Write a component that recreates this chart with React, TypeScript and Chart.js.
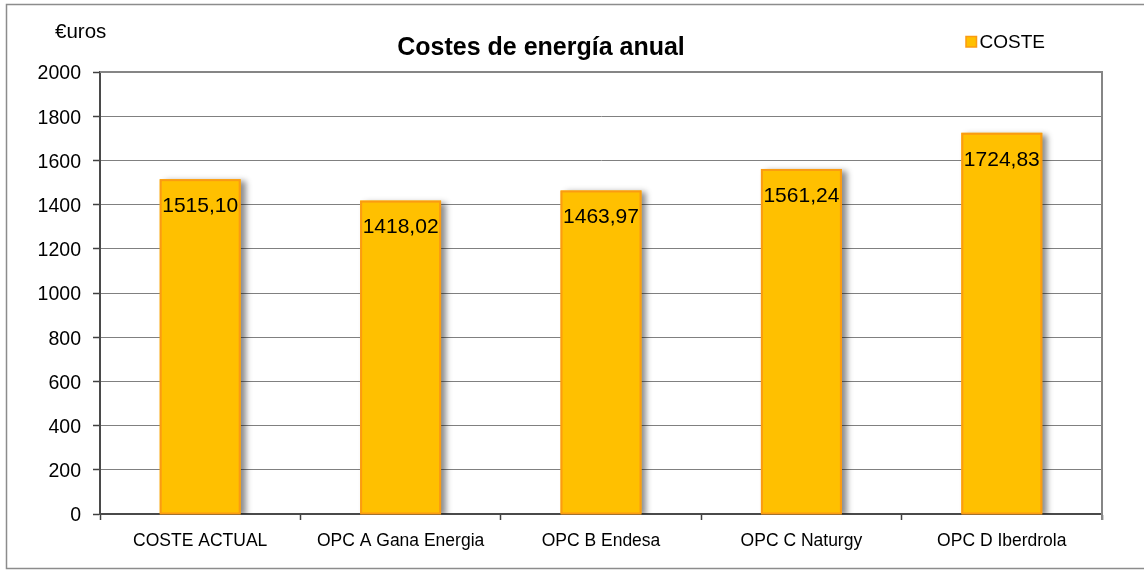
import React, { useEffect, useRef } from "react";
import { Chart, registerables } from "chart.js";

Chart.register(...registerables);

const categories = ["COSTE ACTUAL", "OPC A Gana Energia", "OPC B Endesa", "OPC C Naturgy", "OPC D Iberdrola"];
const costs = [1515.1, 1418.02, 1463.97, 1561.24, 1724.83];
const seriesName = "COSTE";
const chartTitle = "Costes de energía anual";
const yUnitLabel = "€uros";
const yMin = 0;
const yMax = 2000;
const yStep = 200;

const FONT = "'Liberation Sans', Arial, sans-serif";
const BAR_FILL = "#FFC000";
const BAR_BORDER = "#FB9B12";

const fmt = (v: number) => v.toFixed(2).replace(".", ",");

const decorPlugin = {
  id: "decor",
  beforeDraw(chart: any) {
    const ctx = chart.ctx;
    const { width, height } = chart;
    ctx.save();
    ctx.fillStyle = "#ffffff";
    ctx.fillRect(0, 0, width, height);
    ctx.strokeStyle = "#8c8c8c";
    ctx.lineWidth = 1.5;
    ctx.strokeRect(6.5, 4.5, width + 20, 564);
    ctx.restore();
  },
  beforeDatasetDraw(chart: any) {
    const ctx = chart.ctx;
    ctx.save();
    ctx.shadowColor = "rgba(0,0,0,0.45)";
    ctx.shadowOffsetX = 5;
    ctx.shadowOffsetY = 2;
    ctx.shadowBlur = 6;
  },
  afterDatasetDraw(chart: any) {
    chart.ctx.restore();
  },
  afterDatasetsDraw(chart: any) {
    const ctx = chart.ctx;
    const area = chart.chartArea;
    ctx.save();
    // plot frame top/right
    ctx.strokeStyle = "#868686";
    ctx.lineWidth = 2;
    ctx.beginPath();
    ctx.moveTo(area.left, area.top);
    ctx.lineTo(area.right, area.top);
    ctx.lineTo(area.right, area.bottom + 6);
    ctx.stroke();

    // re-stroke bar borders in orange (on top of shadow)
    const meta = chart.getDatasetMeta(0);
    ctx.strokeStyle = BAR_BORDER;
    ctx.lineWidth = 2;
    meta.data.forEach((bar: any) => {
      const half = bar.width / 2;
      ctx.strokeRect(bar.x - half + 1, bar.y + 1, bar.width - 2, bar.base - bar.y - 1);
    });

    // data labels
    ctx.fillStyle = "#000000";
    ctx.font = `21px ${FONT}`;
    ctx.textAlign = "center";
    ctx.textBaseline = "middle";
    meta.data.forEach((bar: any, i: number) => {
      ctx.fillText(fmt(costs[i]), bar.x, bar.y + 27);
    });

    // title
    ctx.font = `bold 25px ${FONT}`;
    ctx.textAlign = "center";
    ctx.fillText(chartTitle, 541, 48);

    // unit label
    ctx.font = `20.5px ${FONT}`;
    ctx.textAlign = "left";
    ctx.fillText(yUnitLabel, 55, 32);

    // legend
    ctx.fillStyle = BAR_FILL;
    ctx.fillRect(966, 36.5, 10.5, 10.5);
    ctx.strokeStyle = BAR_BORDER;
    ctx.lineWidth = 1.5;
    ctx.strokeRect(966, 36.5, 10.5, 10.5);
    ctx.fillStyle = "#000000";
    ctx.font = `19px ${FONT}`;
    ctx.textAlign = "left";
    ctx.fillText(seriesName, 979.5, 42.5);
    ctx.restore();
  },
};

export default function App() {
  const ref = useRef<HTMLCanvasElement>(null);

  useEffect(() => {
    if (!ref.current) return;
    Chart.defaults.font.family = FONT;
    const chart = new Chart(ref.current, {
      type: "bar",
      data: {
        labels: categories,
        datasets: [
          {
            label: seriesName,
            data: costs,
            backgroundColor: BAR_FILL,
            borderColor: BAR_BORDER,
            borderWidth: 0,
            barPercentage: 0.404,
            categoryPercentage: 1,
          },
        ],
      },
      options: {
        responsive: false,
        animation: false,
        devicePixelRatio: 1,
        layout: { padding: { top: 72, right: 42, left: 0, bottom: 0 } },
        plugins: {
          legend: { display: false },
          title: { display: false },
          tooltip: { enabled: false },
        },
        scales: {
          x: {
            afterFit: (s: any) => {
              s.height = 56;
            },
            grid: {
              drawOnChartArea: false,
              drawTicks: true,
              tickLength: 6,
              tickColor: "#404040",
              tickWidth: 1.5,
              offset: true,
            },
            border: { display: true, color: "#4a4a4a", width: 2 },
            ticks: {
              color: "#000000",
              font: { size: 17.5, family: FONT },
              padding: 11,
              maxRotation: 0,
              autoSkip: false,
            },
          },
          y: {
            min: yMin,
            max: yMax,
            afterFit: (s: any) => {
              s.width = 100;
            },
            grid: {
              color: "#808080",
              lineWidth: 1,
              tickLength: 7,
              tickColor: "#404040",
              tickWidth: 1.5,
            },
            border: { display: true, color: "#4a4a4a", width: 2 },
            ticks: {
              stepSize: yStep,
              color: "#000000",
              font: { size: 19.5, family: FONT },
              padding: 12,
              labelOffset: 2,
              callback: (v: any) => String(v),
            },
          },
        },
      },
      plugins: [decorPlugin],
    });
    return () => chart.destroy();
  }, []);

  return (
    <div style={{ position: "absolute", left: 0, top: 0, width: 1144, height: 570, background: "#fff" }}>
      <canvas ref={ref} width={1144} height={570} style={{ display: "block" }} />
    </div>
  );
}
